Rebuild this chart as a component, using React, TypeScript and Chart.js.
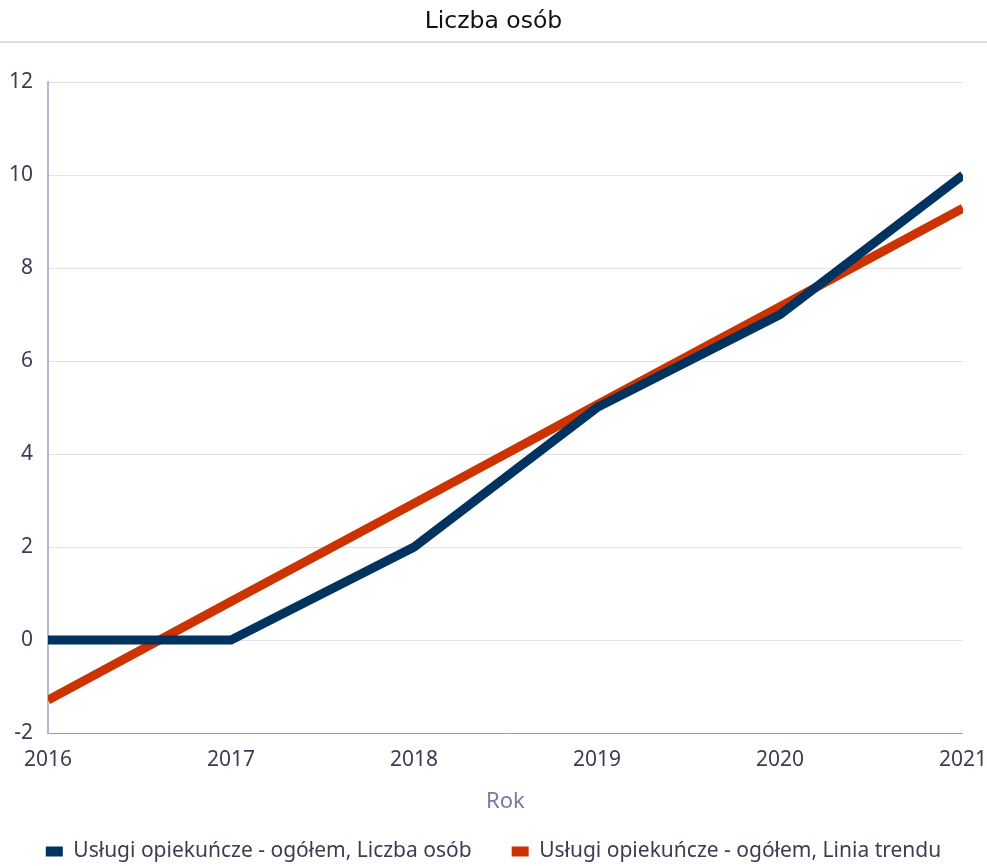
import React, { useEffect, useRef } from "react";
import { Chart, registerables } from "chart.js";

Chart.register(...registerables);

const categories = ["2016", "2017", "2018", "2019", "2020", "2021"];
const liczbaOsob = [0, 0, 2, 5, 7, 10];
const liniaTrendu = [-1.29, 0.83, 2.94, 5.06, 7.17, 9.29];
const seriesNames = [
  "Usługi opiekuńcze - ogółem, Liczba osób",
  "Usługi opiekuńcze - ogółem, Linia trendu",
];
const titleText = "Liczba osób";
const xTitle = "Rok";

const separatorPlugin = {
  id: "separator",
  afterDraw(chart: any) {
    const ctx = chart.ctx;
    ctx.save();
    ctx.fillStyle = "#dcdce4";
    ctx.fillRect(0, 41, chart.width, 2);
    ctx.restore();
  },
};

export default function App() {
  const ref = useRef<HTMLCanvasElement | null>(null);
  useEffect(() => {
    document.body.style.margin = "0";
    const textColor = "#3c3c52";
    const font = "'Noto Sans', 'Open Sans', sans-serif";
    const chart = new Chart(ref.current as HTMLCanvasElement, {
      type: "line",
      data: {
        labels: categories,
        datasets: [
          {
            label: seriesNames[0],
            data: liczbaOsob,
            borderColor: "#00335f",
            backgroundColor: "#00335f",
            borderWidth: 9,
            pointRadius: 0,
            pointHoverRadius: 0,
            tension: 0,
            clip: 0,
            borderJoinStyle: "miter",
            borderCapStyle: "butt",
          },
          {
            label: seriesNames[1],
            data: liniaTrendu,
            borderColor: "#cc3300",
            backgroundColor: "#cc3300",
            borderWidth: 9,
            pointRadius: 0,
            pointHoverRadius: 0,
            tension: 0,
            clip: 0,
            borderCapStyle: "butt",
          },
        ],
      },
      options: {
        animation: false,
        responsive: true,
        maintainAspectRatio: false,
        layout: { padding: { left: 0, right: 0, top: 0, bottom: -6 } },
        plugins: {
          title: {
            display: true,
            text: titleText,
            color: "#111111",
            font: { family: "'DejaVu Sans', sans-serif", size: 23.5, weight: "normal" },
            padding: { top: 8, bottom: 46 },
          },
          legend: {
            position: "bottom",
            labels: {
              boxWidth: 17,
              boxHeight: 10,
              padding: 40,
              color: textColor,
              font: { family: font, size: 21 },
              generateLabels: (c: any) =>
                Chart.defaults.plugins.legend.labels
                  .generateLabels(c)
                  .map((l: any) => ({ ...l, lineWidth: 0 })),
            },
          },
          tooltip: { enabled: false },
        },
        scales: {
          x: {
            type: "category",
            offset: false,
            grid: { display: false, drawTicks: true, tickLength: 14 },
            border: { display: true, color: "#9c9cb8", width: 1 },
            ticks: {
              color: textColor,
              font: { family: font, size: 21 },
              padding: 0,
              maxRotation: 0,
            },
            title: {
              display: true,
              text: xTitle,
              color: "#7a7aa0",
              font: { family: font, size: 22 },
              padding: { top: 3, bottom: -14 },
            },
            afterFit: (s: any) => {
              s.height = 68;
            },
          },
          y: {
            min: -2,
            max: 12,
            ticks: {
              stepSize: 2,
              color: textColor,
              font: { family: font, size: 21 },
              padding: 15,
            },
            grid: { color: "#e2e2ea", drawTicks: false },
            border: { display: true, color: "#b8b8d0", width: 2 },
            afterFit: (s: any) => {
              s.width = 48;
            },
          },
        },
      },
      plugins: [separatorPlugin],
    });
    return () => chart.destroy();
  }, []);
  return (
    <div style={{ width: 987, height: 866, position: "relative" }}>
      <canvas ref={ref} />
    </div>
  );
}
